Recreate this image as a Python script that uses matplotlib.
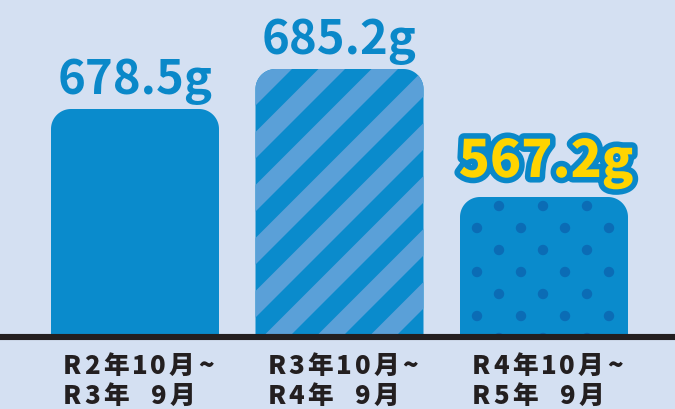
import numpy as np
import matplotlib
matplotlib.use("Agg")
import matplotlib.pyplot as plt
from matplotlib.path import Path
from matplotlib.patches import PathPatch, Polygon, Circle
import matplotlib.patheffects as pe

# ---- data ----
periods_line1 = ["R2年10月~", "R3年10月~", "R4年10月~"]
periods_line2 = ["R3年  9月", "R4年  9月", "R5年  9月"]
values = [678.5, 685.2, 567.2]          # grams
value_labels = ["678.5g", "685.2g", "567.2g"]
bar_heights = [225, 265, 137]           # drawn heights (truncated/illustrative scale)

# ---- style ----
BG = "#d4e0f2"
BLUE = "#0a8bcc"
TXT_BLUE = "#0a88c9"
STRIPE = "#5aa0d8"
DOT = "#0b6cb5"
YELLOW = "#ffd400"
DARK = "#231f20"
FONT = "Noto Sans CJK JP"

plt.rcParams['font.family'] = [FONT, 'DejaVu Sans']

fig = plt.figure(figsize=(6.75, 4.10), dpi=100)
fig.patch.set_facecolor(BG)
ax = fig.add_axes([0, 0, 1, 1])
ax.set_facecolor(BG)
ax.set_xlim(0, 675)
ax.set_ylim(-75, 335)
ax.axis('off')

centers = 135 + 204.5 * np.arange(len(values))
width = 168
radius = 20


def rounded_top_path(x0, w, h, r):
    pts = [(x0, 0)]
    pts.append((x0 + w, 0))
    t = np.linspace(0, np.pi / 2, 20)
    cx, cy = x0 + w - r, h - r
    pts += list(zip(cx + r * np.cos(t), cy + r * np.sin(t)))
    cx = x0 + r
    t2 = np.linspace(np.pi / 2, np.pi, 20)
    pts += list(zip(cx + r * np.cos(t2), cy + r * np.sin(t2)))
    pts.append((x0, 0))
    return Path(pts, closed=True)


for i, (c, h) in enumerate(zip(centers, bar_heights)):
    x0 = c - width / 2
    path = rounded_top_path(x0, width, h, radius)
    patch = PathPatch(path, facecolor=BLUE, edgecolor='none', zorder=2)
    ax.add_patch(patch)
    if i == 1:
        period = 53
        band = period / 2
        for k in range(-14, 14):
            sx = x0 + 10 + k * period
            poly = Polygon([(sx, 0), (sx + band, 0), (sx + band + h + 40, h + 40), (sx + h + 40, h + 40)],
                           closed=True, facecolor=STRIPE, edgecolor='none', zorder=3)
            ax.add_patch(poly)
            poly.set_clip_path(patch)
    if i == 2:
        top = h
        for rr in range(10):
            yy = top - 9 - rr * 22
            offs = [39, 83, 127] if rr % 2 == 0 else [17, 61, 105, 149]
            for o in offs:
                d = Circle((x0 + o, yy), 5.2, facecolor=DOT, edgecolor='none', zorder=3)
                ax.add_patch(d)
                d.set_clip_path(patch)

# value labels
for i, (c, h, lab) in enumerate(zip(centers, bar_heights, value_labels)):
    if i == 2:
        ax.text(c + 2, h + 20, lab, ha='center', va='baseline', fontsize=37, fontweight=900,
                color=YELLOW, zorder=5,
                path_effects=[pe.Stroke(linewidth=8, foreground=TXT_BLUE), pe.Normal()])
    else:
        ax.text(c, h + 16, lab, ha='center', va='baseline', fontsize=34, fontweight='bold',
                color=TXT_BLUE, zorder=5)

# baseline
ax.plot([0, 675], [-3, -3], color=DARK, lw=4.4, solid_capstyle='butt', zorder=4)

renderer = fig.canvas.get_renderer()


def spaced_text(x, y, s, spacing=3, size=18.5):
    cur = x
    for ch in s:
        if ch == ' ':
            cur += 6.5 + spacing
            continue
        t = ax.text(cur, y, ch, ha='left', va='baseline', fontsize=size, fontweight=900,
                    color=DARK, zorder=5)
        bb = t.get_window_extent(renderer)
        cur += bb.width + spacing


for c, l1, l2 in zip(centers, periods_line1, periods_line2):
    x0 = c - width / 2 + 12
    spaced_text(x0, 335 - 374, l1)
    spaced_text(x0, 335 - 404, l2)

fig.savefig("out.png", dpi=100, facecolor=BG)
